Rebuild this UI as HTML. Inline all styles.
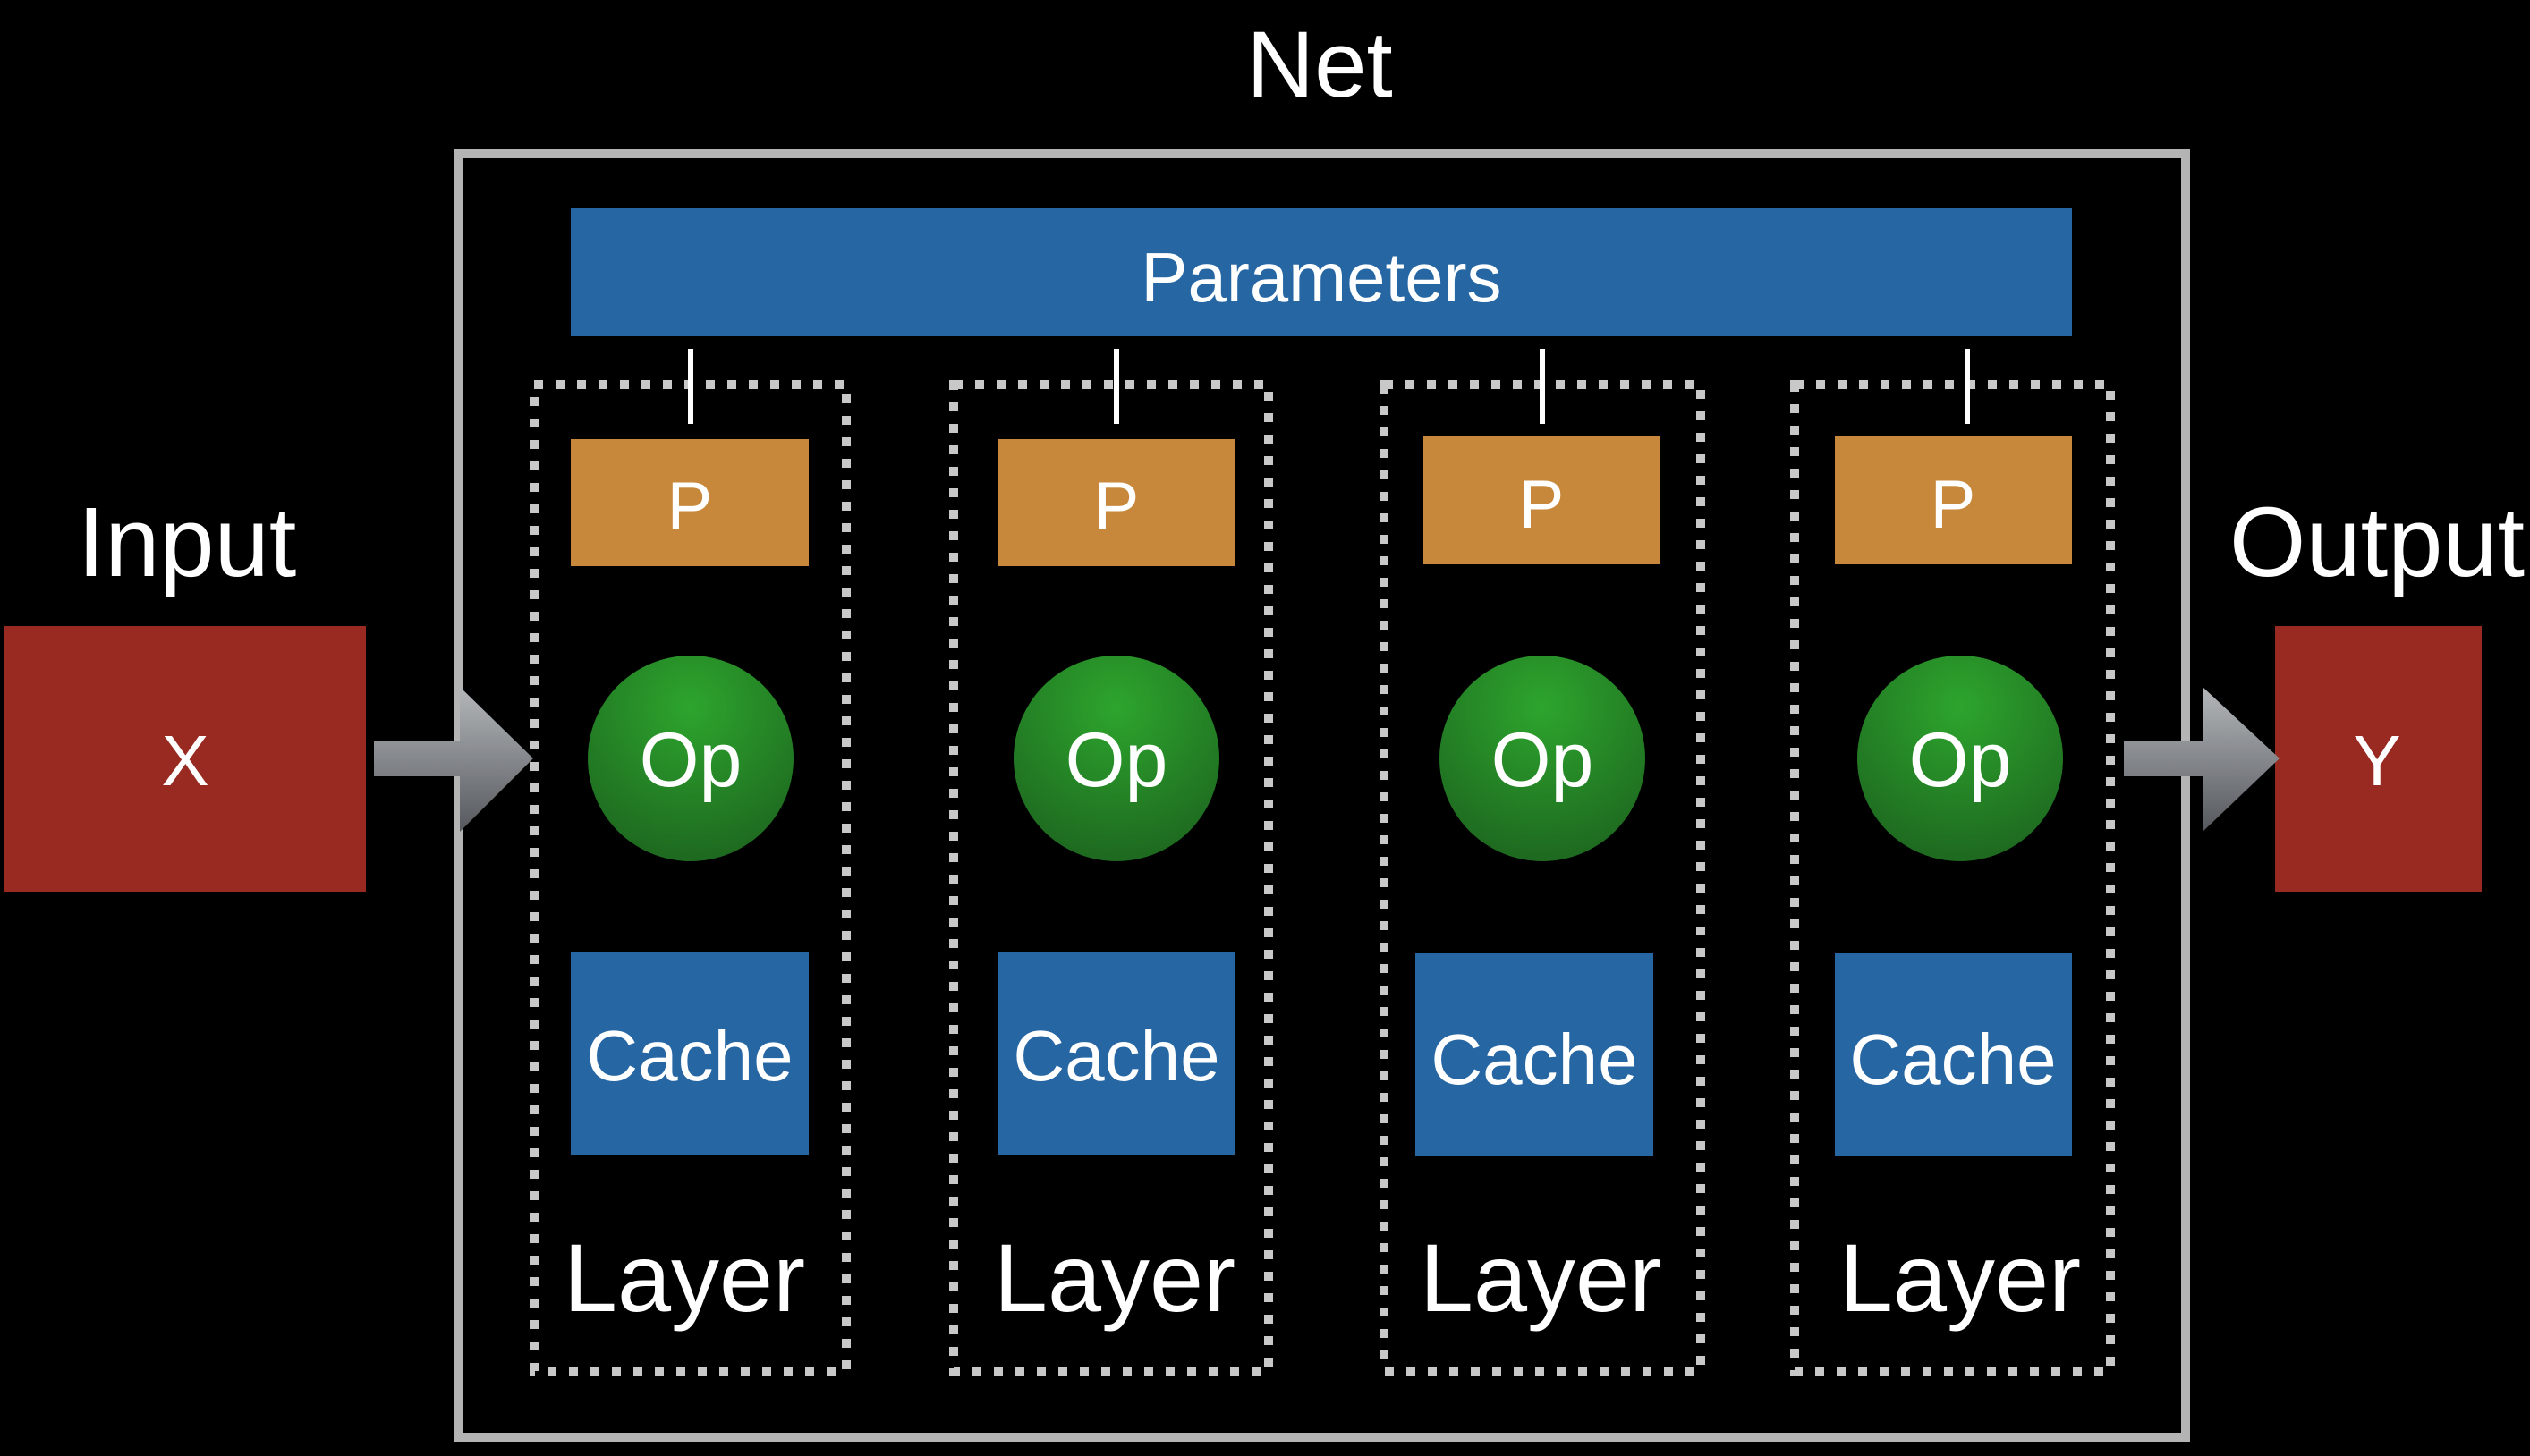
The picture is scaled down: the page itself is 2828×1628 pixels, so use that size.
<!DOCTYPE html>
<html><head><meta charset="utf-8"><style>
html,body{margin:0;padding:0;background:#000;}
svg{display:block;}
text{font-family:"Liberation Sans",sans-serif;fill:#fff;}
</style></head><body>
<svg width="2828" height="1628" viewBox="0 0 2828 1628" xmlns="http://www.w3.org/2000/svg">
<defs>
<radialGradient id="g" cx="50%" cy="25%" r="80%">
<stop offset="0" stop-color="#2da52d"/><stop offset="1" stop-color="#1d651f"/></radialGradient>
<linearGradient id="a" x1="0" y1="0" x2="0" y2="1">
<stop offset="0" stop-color="#b4b7ba"/><stop offset="1" stop-color="#55585d"/></linearGradient>
</defs>
<rect width="2828" height="1628" fill="#000"/>
<text x="1475" y="108" font-size="105" text-anchor="middle">Net</text>
<rect x="512" y="172" width="1931" height="1435" fill="none" stroke="#b4b4b4" stroke-width="10"/>
<rect x="638" y="233" width="1678" height="143" fill="#2566a3"/>
<text x="1477" y="337" font-size="78" text-anchor="middle">Parameters</text>

<g fill="none" stroke="#c8c8c8" stroke-width="10" stroke-dasharray="10 14">
<rect x="597" y="430" width="349" height="1103"/>
<rect x="1066" y="430" width="352" height="1103"/>
<rect x="1547" y="430" width="354" height="1103"/>
<rect x="2006" y="430" width="353" height="1103"/>
</g>
<g stroke="#fff" stroke-width="6">
<line x1="772" y1="390" x2="772" y2="474"/>
<line x1="1248" y1="390" x2="1248" y2="474"/>
<line x1="1724" y1="390" x2="1724" y2="474"/>
<line x1="2199" y1="390" x2="2199" y2="474"/>
</g>
<g fill="#c8883c">
<rect x="638" y="491" width="266" height="142"/>
<rect x="1115" y="491" width="265" height="142"/>
<rect x="1591" y="488" width="265" height="143"/>
<rect x="2051" y="488" width="265" height="143"/>
</g>
<g font-size="76" text-anchor="middle">
<text x="771" y="592">P</text><text x="1248" y="592">P</text>
<text x="1723" y="590">P</text><text x="2183" y="590">P</text>
</g>
<g fill="url(#g)">
<circle cx="772" cy="848" r="115"/><circle cx="1248" cy="848" r="115"/>
<circle cx="1724" cy="848" r="115"/><circle cx="2191" cy="848" r="115"/>
</g>
<g font-size="86" text-anchor="middle">
<text x="772" y="879">Op</text><text x="1248" y="879">Op</text>
<text x="1724" y="879">Op</text><text x="2191" y="879">Op</text>
</g>
<g fill="#2566a3">
<rect x="638" y="1064" width="266" height="227"/>
<rect x="1115" y="1064" width="265" height="227"/>
<rect x="1582" y="1066" width="266" height="227"/>
<rect x="2051" y="1066" width="265" height="227"/>
</g>
<g font-size="80" text-anchor="middle">
<text x="771" y="1208">Cache</text><text x="1248" y="1208">Cache</text>
<text x="1715" y="1212">Cache</text><text x="2183" y="1212">Cache</text>
</g>
<g font-size="108" text-anchor="middle">
<text x="765" y="1466">Layer</text><text x="1246" y="1466">Layer</text>
<text x="1722" y="1466">Layer</text><text x="2191" y="1466">Layer</text>
</g>

<text x="209" y="644" font-size="110" text-anchor="middle">Input</text>
<rect x="5" y="700" width="404" height="297" fill="#982a22"/>
<text x="207" y="878" font-size="80" text-anchor="middle">X</text>
<path d="M418 828 H514 V768 L596 848 L514 930 V868 H418 Z" fill="url(#a)"/>

<text x="2657" y="644" font-size="110" text-anchor="middle">Output</text>
<rect x="2543" y="700" width="231" height="297" fill="#982a22"/>
<text x="2657" y="878" font-size="80" text-anchor="middle">Y</text>
<path d="M2374 828 H2462 V768 L2548 848 L2462 930 V868 H2374 Z" fill="url(#a)"/>
</svg>
</body></html>
